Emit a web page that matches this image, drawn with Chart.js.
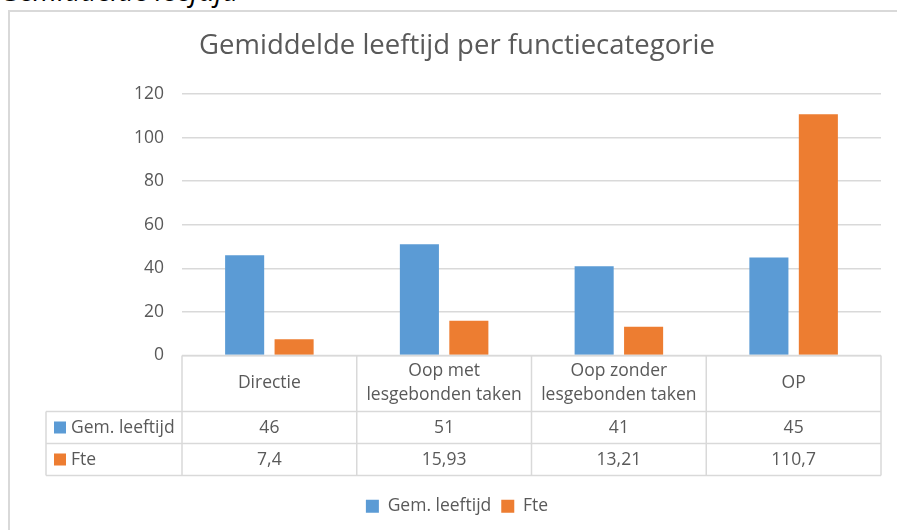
<!DOCTYPE html>
<html>
<head>
<meta charset="utf-8">
<script src="https://cdn.jsdelivr.net/npm/chart.js@4"></script>
<style>
    body { margin: 0; background: #fff; width: 897px; height: 530px; overflow: hidden; position: relative; }
    .caption { position: absolute; left: 0; top: -24px; font: italic 28px/28px "Open Sans", sans-serif; color: #000; white-space: nowrap; }
    .frame { position: absolute; left: 8px; top: 10px; width: 1000px; height: 600px; border: 2px solid #d9d9d9; }
    #ageChart { position: absolute; left: 0; top: 0; }
</style>
</head>
<body>
<div class="caption">Gemiddelde leeftijd</div>
<div class="frame"></div>
<canvas id="ageChart" width="897" height="530"></canvas>
<script>
const categories = [['Directie'], ['Oop met', 'lesgebonden taken'], ['Oop zonder', 'lesgebonden taken'], ['OP']];
const gemLeeftijd = [46, 51, 41, 45];
const fte = [7.4, 15.93, 13.21, 110.7];
const yTicks = [0, 20, 40, 60, 80, 100, 120];

const textColor = '#595959';
const lineColor = '#d9d9d9';
const fontFamily = '"Open Sans", sans-serif';
const fontSize = 17.5;

function fmt(v) {
    return String(v).replace('.', ',');
}

// data table under the plot, drawn from the x scale
const dataTable = {
    id: 'dataTable',
    afterDraw(chart) {
        const ctx = chart.ctx;
        const area = chart.chartArea;
        const xs = chart.scales.x;
        const top = area.bottom;
        const rows = [top, top + 56, top + 88, top + 120];
        const left = 46;
        const step = xs.getPixelForValue(1) - xs.getPixelForValue(0);
        const edges = [];
        for (let i = 0; i <= categories.length; i++) {
            edges.push(xs.getPixelForValue(0) - step / 2 + i * step);
        }
        ctx.save();
        ctx.strokeStyle = lineColor;
        ctx.lineWidth = 1.5;
        ctx.beginPath();
        ctx.moveTo(edges[0], rows[0]);
        ctx.lineTo(edges[edges.length - 1], rows[0]);
        for (let r = 1; r < rows.length; r++) {
            ctx.moveTo(left, rows[r]);
            ctx.lineTo(edges[edges.length - 1], rows[r]);
        }
        ctx.moveTo(left, rows[1]);
        ctx.lineTo(left, rows[3]);
        edges.forEach(x => {
            ctx.moveTo(x, rows[0]);
            ctx.lineTo(x, rows[3]);
        });
        ctx.stroke();

        ctx.fillStyle = textColor;
        ctx.font = fontSize + 'px ' + fontFamily;
        ctx.textAlign = 'center';
        ctx.textBaseline = 'middle';
        categories.forEach((lines, i) => {
            const cx = xs.getPixelForValue(i);
            const mid = (rows[0] + rows[1]) / 2;
            lines.forEach((t, j) => {
                ctx.fillText(t, cx, mid + (j - (lines.length - 1) / 2) * 24);
            });
            ctx.fillText(fmt(gemLeeftijd[i]), cx, (rows[1] + rows[2]) / 2 + 1);
            ctx.fillText(fmt(fte[i]), cx, (rows[2] + rows[3]) / 2 + 1);
        });

        const ds = chart.data.datasets;
        [1, 2].forEach((r, k) => {
            const cy = (rows[r] + rows[r + 1]) / 2;
            ctx.fillStyle = ds[k].backgroundColor;
            ctx.fillRect(54, cy - 6, 12, 12);
            ctx.fillStyle = textColor;
            ctx.textAlign = 'left';
            ctx.fillText(ds[k].label, 71, cy + 1);
        });
        ctx.restore();
    }
};

const ctx = document.getElementById('ageChart').getContext('2d');
const ageChart = new Chart(ctx, {
    type: 'bar',
    data: {
        labels: categories,
        datasets: [{
                label: 'Gem. leeftijd',
                data: gemLeeftijd,
                backgroundColor: '#5b9bd5',
                categoryPercentage: 0.566,
                barPercentage: 0.79
            },
            {
                label: 'Fte',
                data: fte,
                backgroundColor: '#ed7d31',
                categoryPercentage: 0.566,
                barPercentage: 0.79
            }
        ]
    },
    options: {
        responsive: false,
        animation: false,
        layout: {
            padding: { top: 0, left: 33, right: 16, bottom: 5 }
        },
        plugins: {
            title: {
                display: true,
                text: 'Gemiddelde leeftijd per functiecategorie',
                color: textColor,
                font: { family: fontFamily, size: 27.5, weight: 'normal' },
                padding: { top: 30, bottom: 31 }
            },
            legend: {
                position: 'bottom',
                labels: {
                    color: textColor,
                    font: { family: fontFamily, size: fontSize },
                    boxWidth: 13,
                    boxHeight: 13,
                    padding: 10
                }
            },
            tooltip: { enabled: false }
        },
        scales: {
            y: {
                min: 0,
                max: 120,
                afterBuildTicks(scale) {
                    scale.ticks = yTicks.map(v => ({ value: v }));
                },
                afterFit(scale) {
                    scale.width = 149;
                },
                border: { display: false },
                grid: { color: lineColor, lineWidth: 1.5, drawTicks: false },
                ticks: {
                    color: textColor,
                    font: { family: fontFamily, size: fontSize },
                    padding: 18
                }
            },
            x: {
                afterFit(scale) {
                    scale.height = 132;
                },
                border: { display: false },
                grid: { display: false },
                ticks: { display: false }
            }
        }
    },
    plugins: [dataTable]
});
</script>
</body>
</html>
